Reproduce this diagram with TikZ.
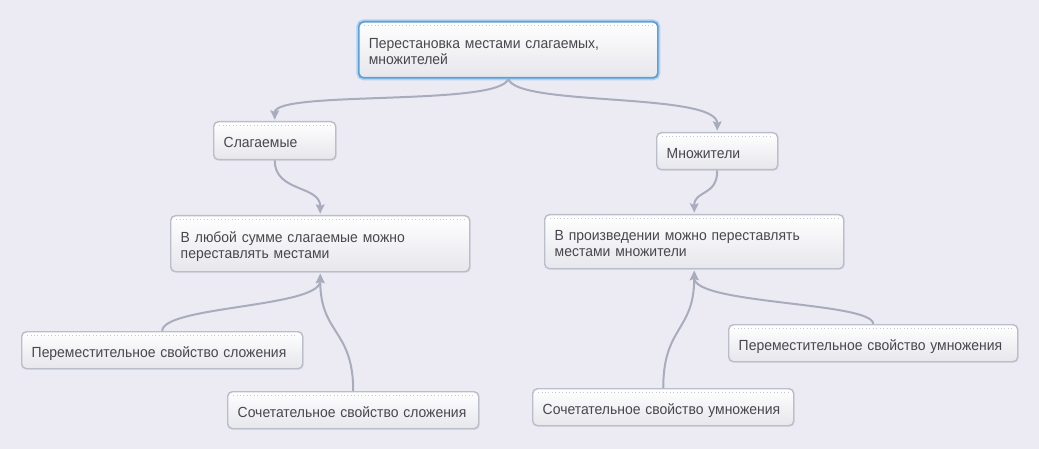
\documentclass[tikz,border=0pt]{standalone}
\usepackage{fontspec}
\setmainfont[FakeStretch=0.95]{Liberation Sans}
\usetikzlibrary{arrows.meta,shadows}

\definecolor{bgcol}{RGB}{236,235,244}
\definecolor{boxline}{RGB}{186,190,202}
\definecolor{boxbottom}{RGB}{230,230,236}
\definecolor{boxtext}{RGB}{72,72,76}
\definecolor{dotcol}{RGB}{196,198,208}
\definecolor{linkcol}{RGB}{168,172,188}
\definecolor{rootline}{RGB}{92,160,216}
\definecolor{rootglow}{RGB}{176,210,238}

\tikzset{
  topic/.style={anchor=north west, align=left, inner xsep=7.5pt, inner ysep=2pt,
    draw=boxline, line width=1.1pt, rounded corners=3.5pt,
    top color=white, bottom color=boxbottom,
    text=boxtext, font=\fontsize{11}{11.7}\selectfont,
    execute at begin node={\rule{0pt}{12.5pt}}, execute at end node={\rule[-2.2pt]{0pt}{2.2pt}},
    drop shadow={opacity=0.12, shadow xshift=0.8pt, shadow yshift=-0.8pt},
    path picture={\draw[dotted, line width=0.6pt, color=dotcol]
      ([xshift=4pt, yshift=-3pt]path picture bounding box.north west) -- ([xshift=-4pt, yshift=-3pt]path picture bounding box.north east);}},
  link/.style={draw=linkcol, line width=1.5pt,
    -{Stealth[length=7pt, width=6.5pt, inset=1.2pt]}, shorten >=1pt}
}

\begin{document}
\begin{tikzpicture}[x=0.75pt,y=0.75pt,yscale=-1,xscale=1]
%background
\fill[bgcol] (0,0) rectangle (1039,449);
\useasboundingbox (0,0) rectangle (1039,449);

% Text Node
\node[topic, text width=209.25pt, minimum height=42pt, line width=1.3pt,
  draw=rootline, preaction={draw=rootglow, line width=3.6pt}] (root) at (358,21) {Перестановка местами слагаемых,\\множителей};
% Text Node
\node[topic, text width=76.5pt, minimum height=28.5pt] (slag) at (213,121) {Слагаемые};
% Text Node
\node[topic, text width=75.75pt, minimum height=27.75pt] (mnozh) at (656,132) {Множители};
% Text Node
\node[topic, text width=209.25pt, minimum height=42pt] (sum) at (170,215) {В любой сумме слагаемые можно\\переставлять местами};
% Text Node
\node[topic, text width=209.25pt, minimum height=40.5pt] (proizv) at (544,214) {В произведении можно переставлять\\местами множители};
% Text Node
\node[topic, text width=195.75pt, minimum height=27.75pt] (perS) at (21,331) {Переместительное свойство сложения};
% Text Node
\node[topic, text width=173.25pt, minimum height=27.75pt] (socS) at (227,391) {Сочетательное свойство сложения};
% Text Node
\node[topic, text width=180.75pt, minimum height=27.75pt] (socU) at (532,388) {Сочетательное свойство умножения};
% Text Node
\node[topic, text width=201.75pt, minimum height=27.75pt] (perU) at (728,324) {Переместительное свойство умножения};

%Curve Lines
\draw[link] (root.south) .. controls +(-8,28) and +(0,-31) .. (slag.north);
\draw[link] (root.south) .. controls +(7,28) and +(0,-40) .. (mnozh.north);
\draw[link] (slag.south) .. controls +(0,32) and +(0,-30) .. (sum.north);
\draw[link] (mnozh.south) .. controls +(0,26) and +(0,-24) .. (proizv.north);
\draw[link] (perS.north) .. controls +(0,-25) and +(0,35) .. (sum.south);
\draw[link] (socS.north) .. controls +(0,-62) and +(0,62) .. (sum.south);
\draw[link] (socU.north) .. controls +(0,-62) and +(0,62) .. (proizv.south);
\draw[link] (perU.north) .. controls +(0,-22) and +(0,35) .. (proizv.south);

\end{tikzpicture}
\end{document}
